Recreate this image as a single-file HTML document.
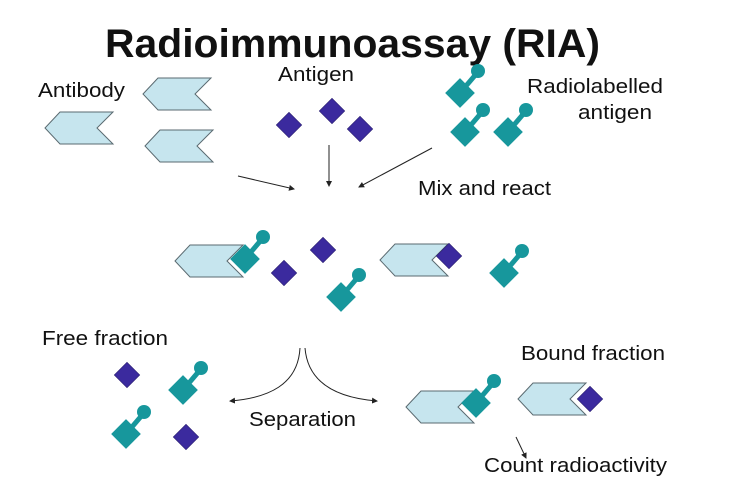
<!DOCTYPE html>
<html><head><style>
html,body{margin:0;padding:0;background:#fff;}
svg{display:block;}
text{font-family:"Liberation Sans",sans-serif;fill:#111;}
</style></head><body>
<svg width="748" height="483" viewBox="0 0 748 483" xmlns="http://www.w3.org/2000/svg">
<defs>
<g id="ab"><path d="M0,16 L15,0 L68,0 L52,16 L68,32 L15,32 Z" fill="#c6e5ee" stroke="#5a6a70" stroke-width="1"/></g>
<g id="ag"><rect x="-9" y="-9" width="18" height="18" fill="#3b2a9e" stroke="#2a1e70" stroke-width="0.6" transform="rotate(45)"/></g>
<g id="lb" fill="#17979c">
<line x1="0" y1="0" x2="17" y2="-20" stroke="#17979c" stroke-width="5"/>
<circle cx="18" cy="-22" r="7"/>
<rect x="-10.5" y="-10.5" width="21" height="21" transform="rotate(45)"/>
</g>
<marker id="ah" markerWidth="6" markerHeight="6" refX="5" refY="3" orient="auto"><path d="M0,0 L6,3 L0,6 Z" fill="#222"/></marker>
</defs>

<text x="105" y="57" font-size="40" font-weight="bold" textLength="495" lengthAdjust="spacingAndGlyphs">Radioimmunoassay (RIA)</text>
<text x="38" y="97" font-size="20" textLength="87" lengthAdjust="spacingAndGlyphs">Antibody</text>
<text x="278" y="81" font-size="20" textLength="76" lengthAdjust="spacingAndGlyphs">Antigen</text>
<text x="527" y="93" font-size="20" textLength="136" lengthAdjust="spacingAndGlyphs">Radiolabelled</text>
<text x="578" y="119" font-size="20" textLength="74" lengthAdjust="spacingAndGlyphs">antigen</text>
<text x="418" y="195" font-size="20" textLength="133" lengthAdjust="spacingAndGlyphs">Mix and react</text>
<text x="42" y="345" font-size="20" textLength="126" lengthAdjust="spacingAndGlyphs">Free fraction</text>
<text x="249" y="426" font-size="20" textLength="107" lengthAdjust="spacingAndGlyphs">Separation</text>
<text x="521" y="360" font-size="20" textLength="144" lengthAdjust="spacingAndGlyphs">Bound fraction</text>
<text x="484" y="472" font-size="20" textLength="183" lengthAdjust="spacingAndGlyphs">Count radioactivity</text>

<!-- top -->
<use href="#ab" x="143" y="78"/>
<use href="#ab" x="45" y="112"/>
<use href="#ab" x="145" y="130"/>
<use href="#ag" x="289" y="125"/>
<use href="#ag" x="332" y="111"/>
<use href="#ag" x="360" y="129"/>
<use href="#lb" x="460" y="93"/>
<use href="#lb" x="465" y="132"/>
<use href="#lb" x="508" y="132"/>

<g stroke="#222" stroke-width="1" fill="none">
<line x1="238" y1="176" x2="294" y2="189" marker-end="url(#ah)"/>
<line x1="329" y1="145" x2="329" y2="186" marker-end="url(#ah)"/>
<line x1="432" y1="148" x2="359" y2="187" marker-end="url(#ah)"/>
<path d="M300,348 C298,385 268,398 230,401" marker-end="url(#ah)"/>
<path d="M305,348 C308,385 340,398 377,401" marker-end="url(#ah)"/>
<line x1="516" y1="437" x2="526" y2="458" marker-end="url(#ah)"/>
</g>

<!-- middle -->
<use href="#ab" x="175" y="245"/>
<use href="#lb" x="245" y="259"/>
<use href="#ag" x="323" y="250"/>
<use href="#ag" x="284" y="273"/>
<use href="#lb" x="341" y="297"/>
<use href="#ab" x="380" y="244"/>
<use href="#ag" x="449" y="256"/>
<use href="#lb" x="504" y="273"/>

<!-- bottom -->
<use href="#ag" x="127" y="375"/>
<use href="#ag" x="186" y="437"/>
<use href="#lb" x="183" y="390"/>
<use href="#lb" x="126" y="434"/>
<use href="#ab" x="406" y="391"/>
<use href="#lb" x="476" y="403"/>
<use href="#ab" x="518" y="383"/>
<use href="#ag" x="590" y="399"/>
</svg>
</body></html>
